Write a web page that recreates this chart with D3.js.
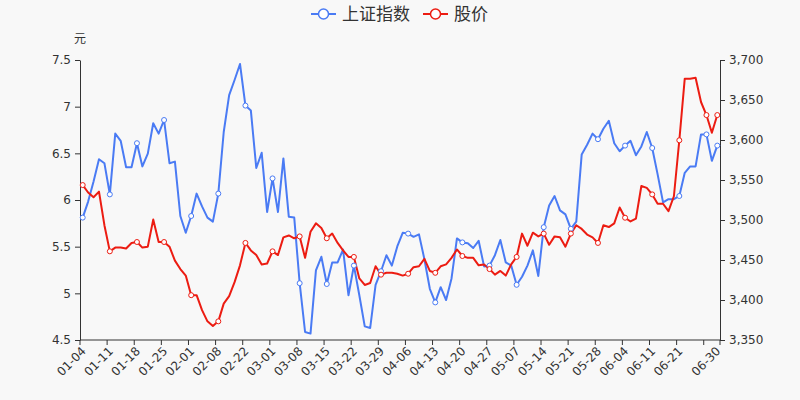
<!DOCTYPE html>
<html>
<head>
<meta charset="utf-8">
<script src="https://cdn.jsdelivr.net/npm/d3@7/dist/d3.min.js"></script>
<style>
  html, body { margin: 0; padding: 0; background: #f8f8f8; }
  svg { display: block; font-family: "DejaVu Sans", "Noto Sans CJK SC", sans-serif; }
</style>
</head>
<body>
<svg id="chart" width="800" height="400"></svg>
<script>
const dates = [
  "01-04","01-05","01-06","01-07","01-08","01-11","01-12","01-13","01-14","01-15",
  "01-18","01-19","01-20","01-21","01-22","01-25","01-26","01-27","01-28","01-29",
  "02-01","02-02","02-03","02-04","02-05","02-08","02-09","02-10","02-18","02-19",
  "02-22","02-23","02-24","02-25","02-26","03-01","03-02","03-03","03-04","03-05",
  "03-08","03-09","03-10","03-11","03-12","03-15","03-16","03-17","03-18","03-19",
  "03-22","03-23","03-24","03-25","03-26","03-29","03-30","03-31","04-01","04-02",
  "04-06","04-07","04-08","04-09","04-12","04-13","04-14","04-15","04-16","04-19",
  "04-20","04-21","04-22","04-23","04-26","04-27","04-28","04-29","04-30","05-06",
  "05-07","05-10","05-11","05-12","05-13","05-14","05-17","05-18","05-19","05-20",
  "05-21","05-24","05-25","05-26","05-27","05-28","05-31","06-01","06-02","06-03",
  "06-04","06-07","06-08","06-09","06-10","06-11","06-15","06-16","06-17","06-18",
  "06-21","06-22","06-23","06-24","06-25","06-28","06-29","06-30"
];

const seriesNames = ["上证指数", "股价"];

// 上证指数 (right axis)
const indexValues = [
  3503,3523,3548,3576,3571,3532,3608,3599,3566,3566,
  3596,3567,3583,3621,3608,3625,3571,3573,3505,3484,
  3505,3533,3517,3503,3498,3533,3610,3656,3675,3695,
  3643,3637,3565,3584,3510,3552,3510,3577,3504,3503,
  3421,3360,3358,3437,3454,3420,3447,3447,3463,3406,
  3443,3406,3367,3365,3419,3436,3456,3443,3467,3484,
  3483,3479,3482,3451,3414,3397,3416,3400,3427,3477,
  3472,3471,3465,3474,3442,3443,3456,3475,3447,3443,
  3419,3429,3443,3462,3430,3491,3518,3530,3512,3507,
  3489,3498,3582,3594,3608,3601,3614,3624,3596,3586,
  3593,3599,3581,3592,3610,3590,3557,3522,3526,3526,
  3530,3559,3567,3567,3607,3607,3574,3593
];

// 股价 (left axis, 元)
const priceValues = [
  6.16,6.08,6.03,6.09,5.73,5.45,5.49,5.49,5.48,5.54,
  5.55,5.49,5.50,5.79,5.55,5.55,5.50,5.35,5.26,5.19,
  4.98,4.98,4.82,4.70,4.65,4.70,4.89,4.97,5.12,5.30,
  5.54,5.46,5.41,5.31,5.32,5.45,5.41,5.60,5.62,5.59,
  5.61,5.38,5.66,5.75,5.70,5.59,5.64,5.54,5.46,5.39,
  5.39,5.16,5.09,5.11,5.29,5.20,5.22,5.22,5.21,5.19,
  5.21,5.28,5.29,5.37,5.24,5.22,5.29,5.31,5.38,5.47,
  5.40,5.38,5.38,5.30,5.31,5.26,5.20,5.24,5.19,5.31,
  5.39,5.64,5.51,5.65,5.61,5.64,5.52,5.61,5.60,5.50,
  5.64,5.73,5.69,5.63,5.60,5.54,5.73,5.71,5.75,5.92,
  5.81,5.77,5.80,6.15,6.13,6.06,5.96,5.96,5.88,6.04,
  6.64,7.30,7.30,7.31,7.05,6.91,6.72,6.91
];

const leftTicks = [4.5, 5, 5.5, 6, 6.5, 7, 7.5];
const rightTicks = [3350, 3400, 3450, 3500, 3550, 3600, 3650, 3700];
const leftUnit = "元";

const colors = { index: "#4a7bf4", price: "#ec1c12" };
const textColor = "#333";

const svg = d3.select("#chart");
const L = 80, R = 720, T = 60, B = 340;

const x = d3.scaleBand().domain(dates).range([L, R]).paddingInner(0).paddingOuter(0);
const yL = d3.scaleLinear().domain([4.5, 7.5]).range([B, T]);
const yR = d3.scaleLinear().domain([3350, 3700]).range([B, T]);
const cx = d => x(d) + x.bandwidth() / 2;

// Left axis
const leftAxis = svg.append("g").attr("transform", `translate(${L},0)`)
  .call(d3.axisLeft(yL).tickValues(leftTicks).tickSize(5).tickSizeOuter(0).tickPadding(4)
    .tickFormat(d3.format("~g")));
// Right axis
const rightAxis = svg.append("g").attr("transform", `translate(${R},0)`)
  .call(d3.axisRight(yR).tickValues(rightTicks).tickSize(5).tickSizeOuter(0).tickPadding(4)
    .tickFormat(d3.format(",")));
[leftAxis, rightAxis].forEach(g => {
  g.select(".domain").attr("stroke", textColor).attr("stroke-width", 1);
  g.selectAll(".tick line").attr("stroke", textColor);
  g.selectAll("text").attr("fill", textColor).attr("font-size", 12)
    .attr("font-family", "DejaVu Sans, sans-serif");
});

// Bottom axis (manual: ticks on band boundaries, labels at band centers)
const xg = svg.append("g");
xg.append("line").attr("x1", L).attr("x2", R).attr("y1", B).attr("y2", B)
  .attr("stroke", textColor).attr("stroke-width", 1);
const tickIdx = dates.map((d, i) => i).filter(i => i % 5 === 0);
const tickPos = tickIdx.map(i => x(dates[i])).concat([x(dates[dates.length - 1]) + x.bandwidth()]);
xg.selectAll("line.tk").data(tickPos).join("line").attr("class", "tk")
  .attr("x1", d => d).attr("x2", d => d).attr("y1", B).attr("y2", B + 5)
  .attr("stroke", textColor);
const labelIdx = dates.map((d, i) => i).filter(i => (i % 5 === 0 && i <= 110) || i === dates.length - 1);
xg.selectAll("text").data(labelIdx).join("text")
  .attr("transform", i => `translate(${cx(dates[i]) + 1},${B + 9}) rotate(-45)`)
  .attr("text-anchor", "end").attr("dy", "0.35em")
  .attr("font-size", 12).attr("fill", textColor)
  .text(i => dates[i]);

// Unit label
svg.append("text").attr("x", L).attr("y", 43).attr("text-anchor", "middle")
  .attr("font-size", 12).attr("fill", textColor)
  .attr("font-family", "Noto Sans CJK SC, sans-serif").text(leftUnit);

// Lines
const idxData = dates.map((d, i) => ({ d, v: indexValues[i], i }));
const prData = dates.map((d, i) => ({ d, v: priceValues[i], i }));
const lineIdx = d3.line().x(p => cx(p.d)).y(p => yR(p.v));
const linePr = d3.line().x(p => cx(p.d)).y(p => yL(p.v));

svg.append("path").datum(idxData).attr("d", lineIdx).attr("fill", "none")
  .attr("stroke", colors.index).attr("stroke-width", 2).attr("stroke-linejoin", "round");
svg.append("path").datum(prData).attr("d", linePr).attr("fill", "none")
  .attr("stroke", colors.price).attr("stroke-width", 2).attr("stroke-linejoin", "round");

const showMarker = p => p.i % 5 === 0 || p.i === dates.length - 1;
svg.append("g").selectAll("circle").data(idxData.filter(showMarker)).join("circle")
  .attr("cx", p => cx(p.d)).attr("cy", p => yR(p.v)).attr("r", 2.5)
  .attr("fill", "#fff").attr("stroke", colors.index).attr("stroke-width", 1);
svg.append("g").selectAll("circle").data(prData.filter(showMarker)).join("circle")
  .attr("cx", p => cx(p.d)).attr("cy", p => yL(p.v)).attr("r", 2.5)
  .attr("fill", "#fff").attr("stroke", colors.price).attr("stroke-width", 1);

// Legend
const legendItems = [
  { name: seriesNames[0], color: colors.index, x0: 311 },
  { name: seriesNames[1], color: colors.price, x0: 423 }
];
const lg = svg.append("g");
legendItems.forEach(it => {
  const g = lg.append("g").attr("transform", `translate(${it.x0},14)`);
  g.append("line").attr("x1", 0).attr("x2", 25).attr("y1", 0).attr("y2", 0)
    .attr("stroke", it.color).attr("stroke-width", 2);
  g.append("circle").attr("cx", 12.5).attr("cy", 0).attr("r", 5)
    .attr("fill", "#fff").attr("stroke", it.color).attr("stroke-width", 1.5);
  g.append("text").attr("x", 31).attr("y", 0).attr("dy", "0.35em")
    .attr("font-size", 17).attr("fill", textColor)
    .attr("font-family", "Noto Sans CJK SC, sans-serif").text(it.name);
});
</script>
</body>
</html>
